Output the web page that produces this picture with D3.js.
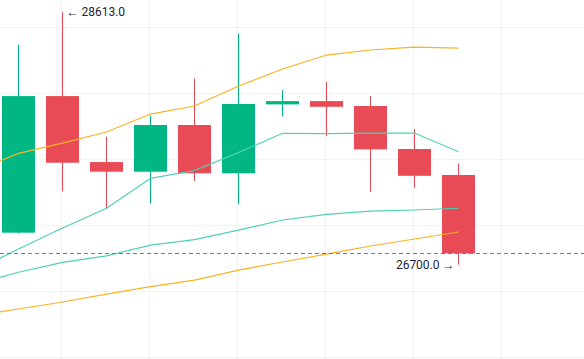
<!DOCTYPE html>
<html>
<head>
<meta charset="utf-8">
<script src="https://cdn.jsdelivr.net/npm/d3@7"></script>
<style>
  html, body { margin: 0; padding: 0; background: #fff; }
  #chart { width: 584px; height: 359px; overflow: hidden; }
</style>
</head>
<body>
<div id="chart"></div>
<script>
// candles
const opens  = [26942, 27977, 27477, 27404, 27758, 27392, 27914, 27939, 27902, 27576, 27379];
const highs  = [28366, 28613, 27669, 27828, 28111, 28452, 28023, 28083, 27977, 27727, 27467];
const lows   = [26935, 27255, 27123, 27164, 27333, 27157, 27823, 27674, 27252, 27283, 26700];
const closes = [27977, 27472, 27404, 27758, 27392, 27917, 27939, 27896, 27573, 27373, 26785];

// indicator lines, first value belongs to the bar just left of the view (index -1)
const maUpperOrange = [27406, 27543, 27621, 27705, 27841, 27902, 28053, 28182, 28288, 28326, 28348, 28341];
const maUpperTeal   = [26652, 26818, 26977, 27127, 27354, 27413, 27549, 27695, 27693, 27697, 27697, 27555];
const maLowerTeal   = [26549, 26642, 26717, 26767, 26848, 26890, 26962, 27038, 27081, 27106, 27114, 27127];
const maLowerOrange = [26311, 26364, 26417, 26477, 26534, 26583, 26659, 26720, 26780, 26841, 26894, 26947];

const priceTicks = [26000, 26500, 27000, 27500, 28000, 28500];
const timeTicks = [1, 3, 5, 7, 9, 11];

const width = 584, height = 359;
const up = "#00b783", down = "#e84b55";

const svg = d3.select("#chart").append("svg")
  .attr("width", width)
  .attr("height", height);

const x = d3.scaleLinear().domain([0, 10]).range([18.5, 458.5]);
const y = d3.scaleLinear().domain([25985, 28705]).range([height, 0]);
const bodyW = 33;

// grid
svg.append("g").selectAll("line")
  .data(priceTicks)
  .enter().append("line")
  .attr("x1", 0).attr("x2", width)
  .attr("y1", d => Math.round(y(d)) + 0.5)
  .attr("y2", d => Math.round(y(d)) + 0.5)
  .attr("stroke", "#f3f3f3");

svg.append("g").selectAll("line")
  .data(timeTicks)
  .enter().append("line")
  .attr("x1", d => Math.floor(x(d)) - 0.5)
  .attr("x2", d => Math.floor(x(d)) - 0.5)
  .attr("y1", 0).attr("y2", height)
  .attr("stroke", "#f3f3f3");

const bars = d3.range(opens.length).map(i => ({
  i: i, o: opens[i], h: highs[i], l: lows[i], c: closes[i]
}));

// wicks
svg.append("g").selectAll("line")
  .data(bars)
  .enter().append("line")
  .attr("x1", d => Math.floor(x(d.i)) + 0.5)
  .attr("x2", d => Math.floor(x(d.i)) + 0.5)
  .attr("y1", d => y(d.h))
  .attr("y2", d => y(d.l))
  .attr("stroke", d => d.c >= d.o ? up : down)
  .attr("stroke-width", 1);

// bodies
svg.append("g").selectAll("rect")
  .data(bars)
  .enter().append("rect")
  .attr("x", d => Math.floor(x(d.i)) + 0.5 - bodyW / 2)
  .attr("y", d => y(Math.max(d.o, d.c)))
  .attr("width", bodyW)
  .attr("height", d => Math.max(1, y(Math.min(d.o, d.c)) - y(Math.max(d.o, d.c))))
  .attr("fill", d => d.c >= d.o ? up : down);

// indicator lines
const line = d3.line()
  .x((d, k) => x(k - 1))
  .y(d => y(d));

const series = [
  { values: maUpperOrange, color: "#f9b325" },
  { values: maLowerOrange, color: "#f9b325" },
  { values: maUpperTeal, color: "#4fd1b6" },
  { values: maLowerTeal, color: "#4fd1b6" }
];

svg.append("g").selectAll("path")
  .data(series)
  .enter().append("path")
  .attr("d", d => line(d.values))
  .attr("fill", "none")
  .attr("stroke", d => d.color)
  .attr("stroke-width", 1.2);

// last price line
const last = bars[bars.length - 1];
svg.append("line")
  .attr("x1", 0).attr("x2", width)
  .attr("y1", Math.round(y(last.c)) + 0.5)
  .attr("y2", Math.round(y(last.c)) + 0.5)
  .attr("stroke", last.c >= last.o ? up : down)
  .attr("stroke-dasharray", "4,3");

// high / low marks
const hi = bars[d3.maxIndex(bars, d => d.h)];
const lo = bars[d3.minIndex(bars, d => d.l)];

svg.append("text")
  .attr("x", x(hi.i) + 4)
  .attr("y", y(hi.h))
  .attr("dy", "0.35em")
  .style("font-family", "Roboto, sans-serif")
  .style("font-size", "12px")
  .style("fill", "#1b2438")
  .text("← " + hi.h.toFixed(1));

svg.append("text")
  .attr("x", x(lo.i) - 4)
  .attr("y", y(lo.l))
  .attr("dy", "0.35em")
  .attr("text-anchor", "end")
  .style("font-family", "Roboto, sans-serif")
  .style("font-size", "12px")
  .style("fill", "#1b2438")
  .text(lo.l.toFixed(1) + " →");
</script>
</body>
</html>
